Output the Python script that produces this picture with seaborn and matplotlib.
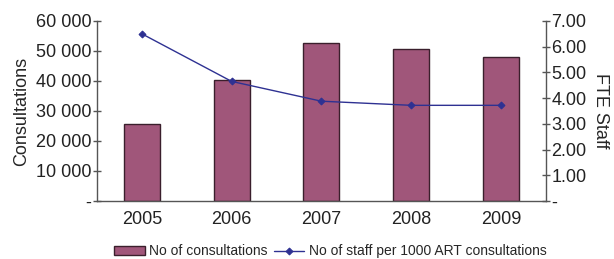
import numpy as np
import matplotlib
matplotlib.use("Agg")
import matplotlib.pyplot as plt
import seaborn as sns
from matplotlib.ticker import FixedLocator, FuncFormatter

# data
years = ["2005", "2006", "2007", "2008", "2009"]
consultations = [25800, 40200, 52800, 50700, 48100]
staff_per_1000 = [6.50, 4.65, 3.88, 3.72, 3.72]

bar_color = "#A0567A"
line_color = "#2E3192"
axis_color = "#555555"

sns.set_style("white")
plt.rcParams["font.family"] = ["Liberation Sans", "DejaVu Sans"]

fig = plt.figure(figsize=(6.14, 2.59), dpi=100)
ax = fig.add_axes([0.158, 0.224, 0.731, 0.695])

sns.barplot(x=years, y=consultations, color=bar_color, width=0.4,
            edgecolor="#3a1f2c", linewidth=1.0, saturation=1, ax=ax)
ax.set_xlim(-0.5, len(years) - 0.5)
ax.set_ylim(0, 60000)
ax.set_yticks(range(0, 60001, 10000))
ax.yaxis.set_major_formatter(FuncFormatter(
    lambda v, p: "-" if v == 0 else f"{int(v):,}".replace(",", " ")))
ax.set_ylabel("Consultations", fontsize=13, labelpad=4)
ax.set_xlabel("")

ax2 = ax.twinx()
sns.pointplot(x=years, y=staff_per_1000, color=line_color, markers="D",
              markersize=3.5, linewidth=1.0, ax=ax2)
ax2.set_ylim(0, 7)
ax2.set_yticks(np.arange(0, 7.01, 1))
ax2.yaxis.set_major_formatter(FuncFormatter(
    lambda v, p: "-" if v == 0 else f"{v:.2f}"))
ax2.set_ylabel("FTE Staff", fontsize=13, rotation=270, labelpad=16)
ax2.set_xlim(-0.5, len(years) - 0.5)

for a in (ax, ax2):
    a.spines["top"].set_visible(False)
    for s in ("left", "right", "bottom"):
        a.spines[s].set_color(axis_color)
        a.spines[s].set_linewidth(1.0)
ax.spines["right"].set_visible(False)
ax2.spines["left"].set_visible(False)
ax2.spines["bottom"].set_visible(False)

ax.tick_params(axis="y", direction="inout", length=6, width=1, colors=axis_color,
               labelcolor="#222222", labelsize=13, pad=1)
ax2.tick_params(axis="y", direction="inout", length=6, width=1, colors=axis_color,
                labelcolor="#222222", labelsize=13, pad=1)
ax.tick_params(axis="x", which="major", length=0, labelsize=13,
               labelcolor="#222222", pad=7)
ax.xaxis.set_minor_locator(FixedLocator(np.arange(0.5, len(years) - 1, 1.0)))
ax.tick_params(axis="x", which="minor", direction="inout", length=6, width=1,
               colors=axis_color)

handles = [ax.patches[0], ax2.lines[0]]
labels = ["No of consultations", "No of staff per 1000 ART consultations"]
fig.legend(handles, labels, loc="lower center", bbox_to_anchor=(0.538, -0.045),
           ncol=2, frameon=False, fontsize=10, handlelength=2.2,
           handleheight=0.6, columnspacing=0.45, handletextpad=0.3)

fig.savefig("out.png", dpi=100)
